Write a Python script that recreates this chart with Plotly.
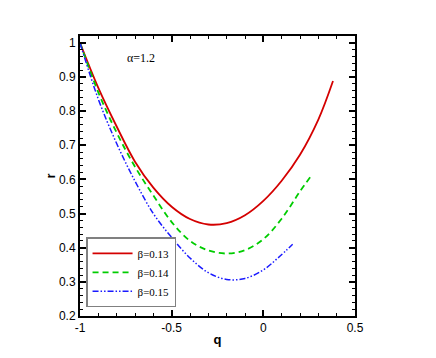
import plotly.graph_objects as go

# beta = 0.13
q_013 = [-1.0, -0.9, -0.8, -0.7, -0.6, -0.5, -0.4, -0.3, -0.2, -0.1, 0.0, 0.1, 0.2, 0.3, 0.38]
r_013 = [1.0, 0.868, 0.755, 0.652, 0.576, 0.52, 0.484, 0.468, 0.472, 0.495, 0.537, 0.596, 0.672, 0.775, 0.888]

# beta = 0.14
q_014 = [-1.0, -0.9, -0.8, -0.7, -0.6, -0.5, -0.4, -0.3, -0.2, -0.1, 0.0, 0.1, 0.2, 0.26]
r_014 = [1.0, 0.855, 0.737, 0.637, 0.553, 0.475, 0.42, 0.392, 0.383, 0.393, 0.425, 0.485, 0.565, 0.61]

# beta = 0.15
q_015 = [-1.0, -0.9, -0.8, -0.7, -0.6, -0.5, -0.4, -0.3, -0.2, -0.1, 0.0, 0.08, 0.16]
r_015 = [1.0, 0.835, 0.705, 0.595, 0.5, 0.43, 0.37, 0.327, 0.307, 0.31, 0.335, 0.37, 0.41]

fig = go.Figure()
fig.add_trace(go.Scatter(x=q_013, y=r_013, mode="lines", name="β=0.13",
                         line=dict(color="#d40000", width=1.8, shape="spline")))
fig.add_trace(go.Scatter(x=q_014, y=r_014, mode="lines", name="β=0.14",
                         line=dict(color="#00cc00", width=1.8, dash="6px,4px", shape="spline")))
fig.add_trace(go.Scatter(x=q_015, y=r_015, mode="lines", name="β=0.15",
                         line=dict(color="#1a1aff", width=1.5, dash="6px,2px,1.5px,2px,1.5px,2px",
                                   shape="spline")))

axis_common = dict(showgrid=False, zeroline=False, showline=True, linecolor="black", linewidth=2,
                   mirror="allticks", ticks="inside", ticklen=6, tickwidth=1.5, tickcolor="black",
                   automargin=False,
                   tickfont=dict(family="Liberation Sans, Arial", size=12, color="black"))

fig.update_xaxes(range=[-1, 0.5], tickvals=[-1, -0.5, 0, 0.5], ticktext=["-1", "-0.5", "0", "0.5"],
                 minor=dict(dtick=0.1, ticks="inside", ticklen=3, tickcolor="black", tickwidth=1),
                 title=dict(text="<b>q</b>", font=dict(family="Liberation Sans, Arial", size=13, color="black"),
                            standoff=0),
                 **axis_common)
fig.update_yaxes(range=[0.2, 1.02], tickvals=[0.2, 0.3, 0.4, 0.5, 0.6, 0.7, 0.8, 0.9, 1.0],
                 ticktext=["0.2", "0.3", "0.4", "0.5", "0.6", "0.7", "0.8", "0.9", "1"],
                 minor=dict(dtick=0.02, ticks="inside", ticklen=3, tickcolor="black", tickwidth=1),
                 title=dict(text="<b>r</b>", font=dict(family="Liberation Sans, Arial", size=13, color="black"),
                            standoff=0),
                 **axis_common)

fig.add_annotation(x=-0.67, y=0.955, xref="x", yref="y", text="α=1.2", showarrow=False,
                   font=dict(family="Liberation Serif, Times New Roman", size=12, color="black"))

fig.update_layout(
    width=436, height=358,
    margin=dict(l=72, r=89, t=28, b=50),
    plot_bgcolor="white", paper_bgcolor="white",
    legend=dict(x=0.022, y=0.031, xanchor="left", yanchor="bottom",
                bgcolor="white", bordercolor="#808080", borderwidth=1.5,
                font=dict(family="Liberation Serif, Times New Roman", size=11, color="black"),
                itemwidth=40, tracegroupgap=0),
)

fig.write_html("out.html")
